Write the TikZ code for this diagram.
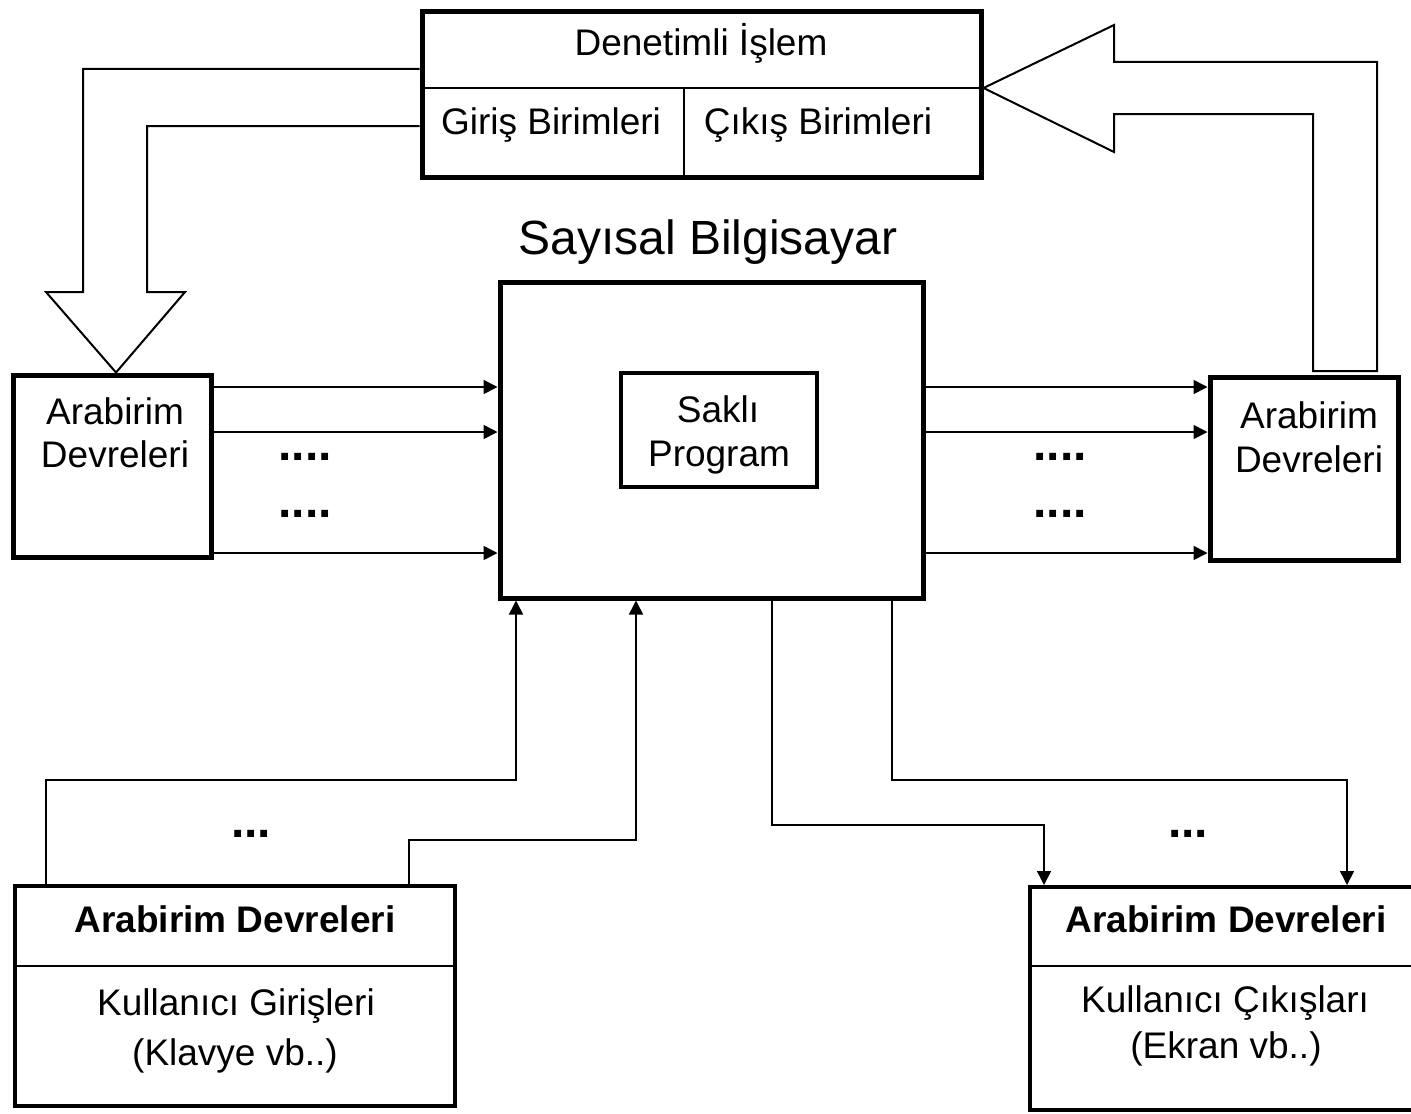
\documentclass[tikz,border=0pt]{standalone}
\usepackage{fontspec}
\setmainfont{Liberation Sans}
\usetikzlibrary{arrows.meta}
\tikzset{
  heavybox/.style={draw, line width=2.5pt, inner sep=0pt},
  framebox/.style={draw, line width=2pt, inner sep=0pt},
  divider/.style={line width=1pt},
  lbl/.style={inner sep=0pt, anchor=base, font=\fontsize{18.5}{21.5}\selectfont},
  boldlbl/.style={lbl, font=\fontsize{18.5}{21.5}\selectfont\bfseries},
  heading/.style={inner sep=0pt, anchor=base, font=\fontsize{24}{28}\selectfont},
  dotrow/.style={inner sep=0pt, anchor=base, font=\fontsize{24}{28}\selectfont\bfseries},
  link/.style={line width=0.8pt},
  linkarrow/.style={link, -{Triangle[length=7pt,width=7pt]}},
  hollow/.style={line width=1pt, line join=miter},
}
\begin{document}
\begin{tikzpicture}[x=0.5pt,y=-0.5pt]
\path[use as bounding box, clip] (0,0) rectangle (1411,1113);

% controlled process block
\node[heavybox, minimum width=279.5pt, minimum height=82.5pt] (ctl) at (701.5,94.5) {};
\draw[divider] (ctl.west |- 0,88) -- (ctl.east |- 0,88);
\draw[divider] (684,88) -- (ctl.south -| 684,0);
\node[lbl] (ctlT) at (701,56) {Denetimli İşlem};
\node[lbl] (ctlIn) at (551,134) {Giriş Birimleri};
\node[lbl] (ctlOut) at (818,134) {Çıkış Birimleri};

% computer
\node[heading] (ttl) at (708,254) {Sayısal Bilgisayar};
\node[heavybox, minimum width=211.5pt, minimum height=158pt] (comp) at (711.5,440) {};
\node[heavybox, line width=2.2pt, minimum width=98pt, minimum height=57pt] (prog) at (719,430) {};
\node[lbl] (progA) at (718,422) {Saklı};
\node[lbl] (progB) at (719,466) {Program};

% interface circuits, left and right
\node[heavybox, minimum width=99pt, minimum height=91pt] (ifl) at (112,466) {};
\node[lbl] (iflA) at (115,424) {Arabirim};
\node[lbl] (iflB) at (115,467) {Devreleri};
\node[heavybox, minimum width=94pt, minimum height=91.5pt] (ifr) at (1304,468.5) {};
\node[lbl] (ifrA) at (1309,428) {Arabirim};
\node[lbl] (ifrB) at (1309,472) {Devreleri};

% signal lines
\foreach \yy in {387,432,553} {
  \draw[linkarrow] (ifl.east |- 0,\yy) -- (comp.west |- 0,\yy);
  \draw[linkarrow] (comp.east |- 0,\yy) -- (ifr.west |- 0,\yy);
}
\node[dotrow] (dl1) at (305,460) {....};
\node[dotrow] (dl2) at (305,517) {....};
\node[dotrow] (dr1) at (1060,460) {....};
\node[dotrow] (dr2) at (1060,517) {....};

% hollow block arrows
\draw[hollow] (ctl.west |- 0,69) -- (83,69) -- (83,292) -- (46,292)
  -- (ifl.north -| 116,0) -- (185,292) -- (147,292) -- (147,126)
  -- (ctl.west |- 0,126);
\draw[hollow] (ctl.east |- 0,88) -- (1114,25) -- (1114,62) -- (1377,62)
  -- (1377,371) -- (1313,371) -- (1313,114) -- (1114,114) -- (1114,152) -- cycle;

% user input block
\node[framebox, minimum width=220pt, minimum height=110pt] (inb) at (235,996) {};
\draw[divider] (inb.west |- 0,966) -- (inb.east |- 0,966);
\node[boldlbl] (inbT) at (235,932) {Arabirim Devreleri};
\node[lbl] (inbA) at (236,1015) {Kullanıcı Girişleri};
\node[lbl] (inbB) at (235,1065) {(Klavye vb..)};

% user output block
\node[framebox, minimum width=196pt, minimum height=111.5pt] (outb) at (1226,998.5) {};
\draw[divider] (outb.west |- 0,966) -- (outb.east |- 0,966);
\node[boldlbl] (outbT) at (1226,932) {Arabirim Devreleri};
\node[lbl] (outbA) at (1225,1012) {Kullanıcı Çıkışları};
\node[lbl] (outbB) at (1226,1058) {(Ekran vb..)};

% user connections
\draw[linkarrow] (inb.north -| 46,0) -- (46,780) -- (516,780) -- (comp.south -| 516,0);
\draw[linkarrow] (inb.north -| 409,0) -- (409,840) -- (636,840) -- (comp.south -| 636,0);
\draw[linkarrow] (comp.south -| 772,0) -- (772,825) -- (1044,825) -- (outb.north -| 1044,0);
\draw[linkarrow] (comp.south -| 892,0) -- (892,780) -- (1347,780) -- (outb.north -| 1347,0);
\node[dotrow] (db1) at (251,837) {...};
\node[dotrow] (db2) at (1188,837) {...};
\end{tikzpicture}
\end{document}
